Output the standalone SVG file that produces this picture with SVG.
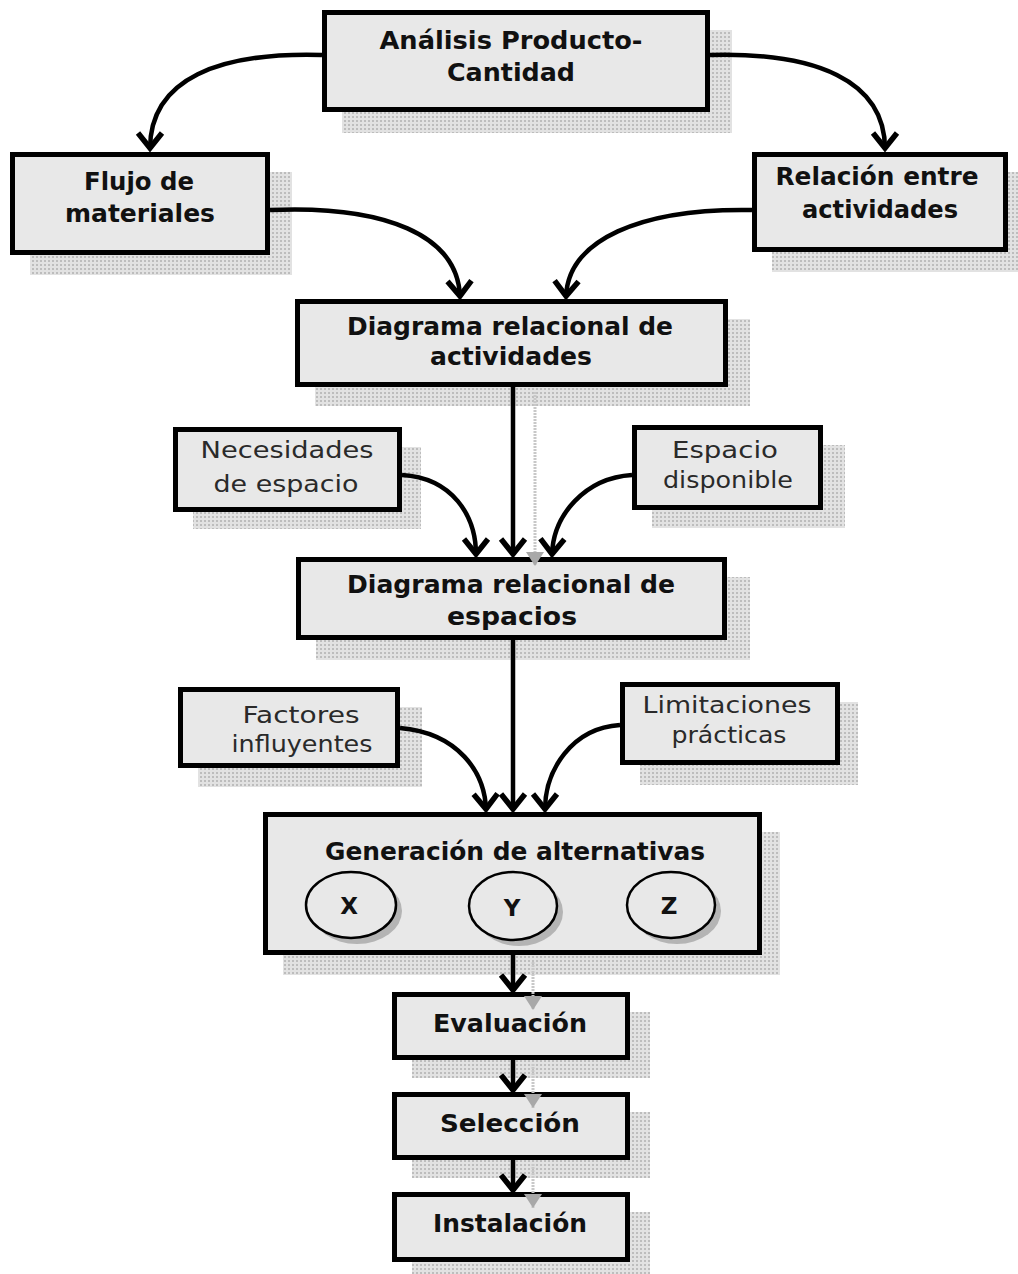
<svg xmlns="http://www.w3.org/2000/svg" width="1018" height="1274" viewBox="0 0 1018 1274">
<style>
.box{fill:#e8e8e8;stroke:#000;stroke-width:5}
.sh{fill:url(#dots)}
.b{font-family:"DejaVu Sans","Liberation Sans",sans-serif;font-weight:bold;font-size:24px;fill:#111;text-anchor:middle}
.r{font-family:"DejaVu Sans","Liberation Sans",sans-serif;font-size:23px;fill:#2a2a2a;text-anchor:middle}
.c{fill:none;stroke:#000;stroke-width:4.5;marker-end:url(#ah)}
.cs{fill:none;stroke:#c8c8c8;stroke-width:3;stroke-dasharray:2 1;marker-end:url(#ahs)}
.circ{fill:#e8e8e8;stroke:#000;stroke-width:2.5}
.csh{fill:#b4b4b4}
</style>
<defs>
<pattern id="dots" width="4" height="4" patternUnits="userSpaceOnUse">
<rect width="4" height="4" fill="#e2e2e2"/>
<rect width="2" height="2" fill="#bdbdbd"/>
</pattern>
<marker id="ah" viewBox="-20 -16 24 32" refX="0" refY="0" markerWidth="24" markerHeight="32" markerUnits="userSpaceOnUse" orient="auto" overflow="visible">
<path d="M-16,-12 L-1,0 L-16,12" fill="none" stroke="#000" stroke-width="5.5" stroke-linejoin="miter"/>
</marker>
<marker id="ahs" viewBox="-20 -16 24 32" refX="0" refY="0" markerWidth="24" markerHeight="32" markerUnits="userSpaceOnUse" orient="auto" overflow="visible">
<path d="M-14,-9 L0,0 L-14,9 Z" fill="#a8a8a8"/>
</marker>
</defs>
<rect width="1018" height="1274" fill="#fff"/>

<g id="n1">
<rect class="sh" x="342" y="30" width="390" height="103"/>
<rect class="box" x="324.5" y="12.5" width="383" height="97"/>
<text class="b" x="511" y="49" textLength="263" lengthAdjust="spacingAndGlyphs">Análisis Producto-</text>
<text class="b" x="511" y="81" textLength="128" lengthAdjust="spacingAndGlyphs">Cantidad</text>
</g>
<g id="n2">
<rect class="sh" x="30" y="172" width="262" height="103"/>
<rect class="box" x="12.5" y="154.5" width="255" height="98"/>
<text class="b" x="139" y="190" textLength="110" lengthAdjust="spacingAndGlyphs">Flujo de</text>
<text class="b" x="140" y="222" textLength="150" lengthAdjust="spacingAndGlyphs">materiales</text>
</g>
<g id="n3">
<rect class="sh" x="772" y="172" width="246" height="100"/>
<rect class="box" x="754.5" y="154.5" width="251" height="95"/>
<text class="b" x="877" y="185" textLength="203" lengthAdjust="spacingAndGlyphs">Relación entre</text>
<text class="b" x="880" y="218" textLength="156" lengthAdjust="spacingAndGlyphs">actividades</text>
</g>
<g id="n4">
<rect class="sh" x="315" y="319" width="435" height="87"/>
<rect class="box" x="297.5" y="301.5" width="428" height="83"/>
<text class="b" x="510" y="335" textLength="326" lengthAdjust="spacingAndGlyphs">Diagrama relacional de</text>
<text class="b" x="511" y="365" textLength="162" lengthAdjust="spacingAndGlyphs">actividades</text>
</g>
<g id="n5">
<rect class="sh" x="193" y="447" width="228" height="82"/>
<rect class="box" x="175.5" y="429.5" width="224" height="80"/>
<text class="r" x="287" y="458" textLength="173" lengthAdjust="spacingAndGlyphs">Necesidades</text>
<text class="r" x="286" y="492" textLength="145" lengthAdjust="spacingAndGlyphs">de espacio</text>
</g>
<g id="n6">
<rect class="sh" x="652" y="445" width="193" height="83"/>
<rect class="box" x="634.5" y="427.5" width="186" height="80"/>
<text class="r" x="725" y="458" textLength="106" lengthAdjust="spacingAndGlyphs">Espacio</text>
<text class="r" x="728" y="488" textLength="130" lengthAdjust="spacingAndGlyphs">disponible</text>
</g>
<g id="n7">
<rect class="sh" x="316" y="577" width="434" height="83"/>
<rect class="box" x="298.5" y="559.5" width="426" height="78"/>
<text class="b" x="511" y="593" textLength="328" lengthAdjust="spacingAndGlyphs">Diagrama relacional de</text>
<text class="b" x="512" y="625" textLength="130" lengthAdjust="spacingAndGlyphs">espacios</text>
</g>
<g id="n8">
<rect class="sh" x="198" y="707" width="224" height="80"/>
<rect class="box" x="180.5" y="689.5" width="217" height="76"/>
<text class="r" x="301" y="723" textLength="117" lengthAdjust="spacingAndGlyphs">Factores</text>
<text class="r" x="302" y="752" textLength="141" lengthAdjust="spacingAndGlyphs">influyentes</text>
</g>
<g id="n9">
<rect class="sh" x="640" y="702" width="218" height="83"/>
<rect class="box" x="622.5" y="684.5" width="215" height="78"/>
<text class="r" x="727" y="713" textLength="169" lengthAdjust="spacingAndGlyphs">Limitaciones</text>
<text class="r" x="729" y="743" textLength="115" lengthAdjust="spacingAndGlyphs">prácticas</text>
</g>
<g id="n10">
<rect class="sh" x="283" y="832" width="497" height="143"/>
<rect class="box" x="265.5" y="814.5" width="494" height="138"/>
<text class="b" x="515" y="860" textLength="380" lengthAdjust="spacingAndGlyphs">Generación de alternativas</text>
<g id="alt-x">
<ellipse class="csh" cx="357" cy="911" rx="45" ry="33"/>
<ellipse class="circ" cx="351" cy="905" rx="45" ry="33"/>
<text class="b" x="349" y="914" style="font-size:23px">X</text>
</g>
<g id="alt-y">
<ellipse class="csh" cx="519" cy="912" rx="44" ry="34"/>
<ellipse class="circ" cx="513" cy="906" rx="44" ry="34"/>
<text class="b" x="512" y="916" style="font-size:23px">Y</text>
</g>
<g id="alt-z">
<ellipse class="csh" cx="677" cy="911" rx="44" ry="33"/>
<ellipse class="circ" cx="671" cy="905" rx="44" ry="33"/>
<text class="b" x="669" y="914" style="font-size:23px">Z</text>
</g>
</g>
<g id="n11">
<rect class="sh" x="412" y="1012" width="238" height="66"/>
<rect class="box" x="394.5" y="994.5" width="233" height="63"/>
<text class="b" x="510" y="1032" textLength="154" lengthAdjust="spacingAndGlyphs">Evaluación</text>
</g>
<g id="n12">
<rect class="sh" x="412" y="1112" width="238" height="66"/>
<rect class="box" x="394.5" y="1094.5" width="233" height="63"/>
<text class="b" x="510" y="1132" textLength="140" lengthAdjust="spacingAndGlyphs">Selección</text>
</g>
<g id="n13">
<rect class="sh" x="412" y="1212" width="238" height="62"/>
<rect class="box" x="394.5" y="1194.5" width="233" height="65"/>
<text class="b" x="510" y="1232" textLength="154" lengthAdjust="spacingAndGlyphs">Instalación</text>
</g>

<g id="connectors">
<path class="cs" d="M535,392 L535,566"/>
<path class="cs" d="M533,962 L533,1010"/>
<path class="cs" d="M533,1064 L533,1108"/>
<path class="cs" d="M533,1164 L533,1208"/>
<path class="c" d="M322,55 C220,52 150,78 150,149"/>
<path class="c" d="M710,55 C815,52 885,80 885,149"/>
<path class="c" d="M270,210 C385,205 458,235 460,297"/>
<path class="c" d="M752,210 C640,208 568,240 566,297"/>
<path class="c" d="M513,387 L513,555"/>
<path class="c" d="M402,475 C452,478 476,515 476,555"/>
<path class="c" d="M632,475 C585,478 553,515 552,555"/>
<path class="c" d="M513,640 L513,810"/>
<path class="c" d="M400,728 C458,733 485,772 486,810"/>
<path class="c" d="M620,725 C572,728 545,770 545,810"/>
<path class="c" d="M513,955 L513,991"/>
<path class="c" d="M513,1060 L513,1091"/>
<path class="c" d="M513,1160 L513,1191"/>
</g>
</svg>
